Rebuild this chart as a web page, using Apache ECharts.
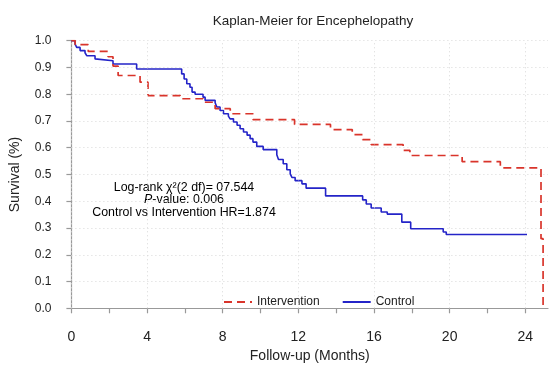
<!DOCTYPE html>
<html>
<head>
<meta charset="utf-8">
<script src="https://cdn.jsdelivr.net/npm/echarts@6/dist/echarts.min.js"></script>
<style>
  html, body { margin: 0; padding: 0; background: #fff; }
  #chart { width: 559px; height: 365px; }
</style>
</head>
<body>
<div id="chart"></div>
<script>
// Kaplan-Meier survival estimates (time in months, survival proportion)
const interventionTime = [0, 0.2, 0.89, 1.94, 2.2, 2.47, 3.63, 4.05, 5.75, 6.96, 7.6, 8.4, 9.6, 11.8, 13.7, 14.85, 15.4, 15.85, 17.54, 17.9, 20.66, 22.68, 24.83, 24.94];
const interventionSurv = [1.0, 0.985, 0.96, 0.94, 0.905, 0.87, 0.845, 0.795, 0.783, 0.77, 0.746, 0.727, 0.705, 0.687, 0.668, 0.649, 0.63, 0.612, 0.59, 0.571, 0.548, 0.525, 0.26, 0.0];

const controlTime = [0, 0.19, 0.28, 0.46, 0.72, 0.81, 1.25, 1.34, 2.2, 3.45, 5.83, 5.96, 6.1, 6.27, 6.38, 6.54, 6.96, 7.07, 7.6, 7.69, 7.86, 8.04, 8.3, 8.39, 8.57, 8.76, 8.92, 9.1, 9.29, 9.45, 9.6, 9.8, 10.14, 10.86, 10.95, 11.2, 11.39, 11.57, 11.66, 11.83, 12.19, 12.41, 13.44, 15.4, 15.59, 15.85, 16.38, 16.7, 17.47, 17.94, 19.66, 19.82, 24.09];
const controlSurv = [1.0, 0.988, 0.975, 0.963, 0.955, 0.944, 0.932, 0.925, 0.913, 0.894, 0.876, 0.857, 0.839, 0.826, 0.808, 0.8, 0.789, 0.777, 0.768, 0.752, 0.739, 0.727, 0.718, 0.708, 0.696, 0.684, 0.671, 0.659, 0.647, 0.634, 0.621, 0.605, 0.593, 0.574, 0.556, 0.54, 0.518, 0.502, 0.489, 0.477, 0.465, 0.449, 0.42, 0.405, 0.39, 0.375, 0.36, 0.352, 0.322, 0.297, 0.285, 0.276, 0.276];

// Axis ticks
const xTickValues = [0, 2, 4, 6, 8, 10, 12, 14, 16, 18, 20, 22, 24];
const xLabelValues = [0, 4, 8, 12, 16, 20, 24];
const xGridValues = [0, 4, 8, 12, 16, 20, 24];

const FONT = '"Liberation Sans", Arial, Helvetica, sans-serif';
const TEXT = '#222';
const AXIS = '#999';

const pair = (t, s) => t.map((v, i) => [v, s[i]]);

const chart = echarts.init(document.getElementById('chart'), null, { renderer: 'canvas' });

chart.setOption({
  animation: false,
  backgroundColor: '#fff',
  textStyle: { fontFamily: FONT },
  title: {
    text: 'Kaplan-Meier for Encephelopathy',
    left: 308,
    textAlign: 'center',
    top: 9,
    textStyle: { fontFamily: FONT, fontSize: 13.5, fontWeight: 'normal', color: TEXT }
  },
  grid: { left: 71.4, right: 11, top: 40.7, bottom: 56.7, containLabel: false, outerBoundsMode: 'none' },
  xAxis: {
    type: 'value',
    min: 0,
    max: 25.2,
    interval: 2,
    offset: 12,
    name: 'Follow-up (Months)',
    nameLocation: 'middle',
    nameGap: 27,
    nameTextStyle: { fontFamily: FONT, fontSize: 14, color: TEXT },
    axisLine: { show: true, lineStyle: { color: AXIS, width: 1.2 } },
    axisTick: { show: true, length: 5, customValues: xTickValues, lineStyle: { color: AXIS, width: 1.2 } },
    axisLabel: {
      customValues: xLabelValues,
      margin: 10,
      fontSize: 14,
      color: TEXT,
      fontFamily: FONT,
      formatter: v => (v % 4 === 0 ? String(v) : '')
    },
    splitLine: { show: false }
  },
  yAxis: {
    type: 'value',
    min: 0,
    max: 1,
    interval: 0.1,
    offset: 9,
    name: 'Survival (%)',
    nameLocation: 'middle',
    nameGap: 40,
    nameTextStyle: { fontFamily: FONT, fontSize: 14, color: TEXT },
    axisLine: { show: true, lineStyle: { color: AXIS, width: 1.2 } },
    axisTick: { show: true, length: 5, lineStyle: { color: AXIS, width: 1.2 } },
    axisLabel: { fontSize: 12, color: TEXT, fontFamily: FONT, margin: 11, formatter: v => v.toFixed(1) },
    splitLine: { show: true, lineStyle: { color: '#d8d8d8', type: [1, 3], width: 1 } }
  },
  legend: {
    left: 218,
    top: 291,
    itemWidth: 28,
    itemHeight: 10,
    itemGap: 22,
    itemStyle: { opacity: 0 },
    textStyle: { fontFamily: FONT, fontSize: 12, color: TEXT },
    data: ['Intervention', 'Control']
  },
  series: [
    {
      name: 'Grid',
      type: 'line',
      data: [],
      silent: true,
      markLine: {
        silent: true,
        symbol: 'none',
        label: { show: false },
        lineStyle: { color: '#d8d8d8', type: [1, 3], width: 1 },
        data: xGridValues.map(v => ({ xAxis: v }))
      }
    },
    {
      name: 'Control',
      type: 'line',
      step: 'end',
      symbol: 'none',
      data: pair(controlTime, controlSurv),
      lineStyle: { color: '#2424c8', width: 1.6 },
      itemStyle: { color: '#2424c8' },
      z: 3
    },
    {
      name: 'Intervention',
      type: 'line',
      step: 'end',
      symbol: 'none',
      data: pair(interventionTime, interventionSurv),
      lineStyle: { color: '#d9342b', width: 1.7, type: [8, 5] },
      itemStyle: { color: '#d9342b' },
      z: 4
    }
  ],
  graphic: [
    {
      type: 'text',
      x: 184,
      y: 181,
      style: {
        text: '{a|Log-rank χ²(2 df)= 07.544}\n{i|P}{a|-value: 0.006}\n{a|Control vs Intervention HR=1.874}',
        align: 'center',
        verticalAlign: 'top',
        rich: {
          a: { fontFamily: FONT, fontSize: 12.4, color: TEXT, lineHeight: 12.5 },
          i: { fontFamily: FONT, fontSize: 12.4, fontStyle: 'italic', color: TEXT, lineHeight: 12.5 }
        }
      }
    }
  ]
});
</script>
</body>
</html>
